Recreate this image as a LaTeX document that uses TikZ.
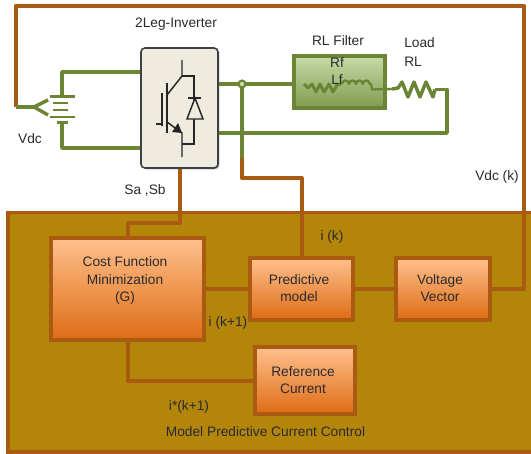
\documentclass[tikz,border=0pt]{standalone}
\usepackage{fontspec}
\setmainfont{Liberation Sans}
\usetikzlibrary{shadows}
\definecolor{wirebrown}{HTML}{AB5A12}
\definecolor{wiregreen}{HTML}{6B8535}
\definecolor{ctrlfill}{HTML}{B38508}
\definecolor{invfill}{HTML}{F0EBDF}
\definecolor{txt}{HTML}{2A2A30}
\definecolor{boxtop}{HTML}{FFC08C}
\definecolor{boxbot}{HTML}{DD6C14}
\definecolor{filttop}{HTML}{C8DAA6}
\definecolor{filtbot}{HTML}{7F9C50}
\tikzset{
  px/.style={x=0.75pt,y=-0.75pt},
  brownwire/.style={draw=wirebrown,line width=3pt,line join=round},
  greenwire/.style={draw=wiregreen,line width=2.6pt,line join=round},
  devline/.style={draw=wiregreen,line width=2.2pt,line join=round},
  igbt/.style={draw=black!85,line width=1.1pt,line join=miter},
  ctrlbox/.style={draw=wirebrown,line width=2.8pt,top color=boxtop,bottom color=boxbot,
    inner sep=0pt,drop shadow={shadow xshift=1pt,shadow yshift=-1pt,opacity=.3,fill=black}},
  lbl/.style={inner sep=0pt,font=\fontsize{10.3}{12.8}\selectfont,text=txt},
}
\begin{document}
\begin{tikzpicture}[px]
\useasboundingbox (0,0) rectangle (531,453);
\fill[white] (0,0) rectangle (531,453);
% control panel
\path[fill=ctrlfill,draw=wirebrown,line width=2.4pt] (8,212.5) -- (535,212.5) -- (535,452) -- (8,452) -- cycle;
% named points
\coordinate (topL) at (15.5,6);
\coordinate (topR) at (524,6);
\coordinate (sense) at (15.5,107);
\coordinate (fork) at (34,107);
\coordinate (forkA) at (48,100);
\coordinate (forkB) at (48,115);
\coordinate (batT) at (62,96);
\coordinate (batB) at (62,122);
\coordinate (dot) at (242,84);
\coordinate (meas) at (242,158);
\coordinate (filtOut) at (372,89.5);
\coordinate (loadIn) at (392,89);
\coordinate (loadOut) at (435,89.5);
\coordinate (loadR) at (447,89.5);
% boxes
\node[draw=black!75,line width=1.2pt,fill=invfill,rounded corners=3pt,minimum width=77*0.75pt,minimum height=120*0.75pt,inner sep=0pt,
  drop shadow={shadow xshift=1pt,shadow yshift=-1pt,opacity=.3,fill=black}] (inv) at (179.5,108) {};
\node[draw=wiregreen,line width=2.6pt,top color=filttop,bottom color=filtbot,minimum width=91*0.75pt,minimum height=52*0.75pt,inner sep=0pt,
  drop shadow={shadow xshift=1pt,shadow yshift=-1pt,opacity=.3,fill=black}] (filt) at (339.5,82) {};
% wires
\draw[brownwire] (sense) -- (topL) -- (topR) |- (397,289);
\draw[greenwire] (sense) -- (fork);
\draw[greenwire] (forkA) -- (fork) -- (forkB);
\draw[greenwire] (batT) |- (inv.west |- 0,72);
\draw[greenwire] (batB) |- (inv.west |- 0,148);
\draw[greenwire] (inv.east |- dot) -- (dot) -- (filt.west |- dot);
\draw[greenwire] (dot) -- (meas);
\draw[greenwire] (inv.east |- 0,133) -- (loadR |- 0,133) -- (loadR) -- (loadOut);
\draw[brownwire] (meas) -- (242,178) -- (301.5,178) -- (301.5,258);
\draw[brownwire] (inv.south) -- (179.5,223) -- (127.5,223) -- (127.5,238);
% battery
\draw[devline] (50,96.5) -- (75,96.5);
\draw[devline] (53,103) -- (68,103);
\draw[devline] (50,117) -- (75,117);
\draw[devline] (53,110) -- (68,110);
\draw[devline] (57,122.5) -- (68,122.5);
% junction
\filldraw[draw=wiregreen,fill=filttop,line width=1.6pt] (dot) circle (2.6pt);
% filter internals
\draw[devline] (304,84) -- (308,88) -- (312,84) -- (316,92) -- (320,84) -- (324,92) -- (329,84) -- (333,92) -- (337,85) -- (341,84);
\draw[devline,line width=1.8pt] (342,84) arc[start angle=180,end angle=0,radius=2.6pt] arc[start angle=180,end angle=0,radius=2.6pt] arc[start angle=180,end angle=0,radius=2.6pt] arc[start angle=180,end angle=0,radius=2.6pt] -- (371,84) -- (filtOut) -- (loadIn);
% load
\draw[greenwire] (loadIn) -- (398,88) -- (402,82) -- (408,97) -- (414,82) -- (420,97) -- (426,82) -- (433,97) -- (loadOut);
% inverter symbol
\draw[igbt,line width=1.4pt] (162,93) -- (162,126);
\draw[igbt] (156,124) -- (162,124);
\draw[igbt,line width=1.4pt] (167,83) -- (167,133);
\draw[igbt] (182,60) -- (182,76) -- (167,95);
\draw[igbt] (182,76) -- (194,76) -- (194,144) -- (182,144);
\draw[igbt] (167,122) -- (182,133) -- (182,157);
\fill[black!85] (182,133) -- (172,132) -- (178,123) -- cycle;
\draw[igbt,fill=invfill] (195,98) -- (187,119) -- (203,119) -- cycle;
\draw[igbt,line width=1.4pt] (188,98) -- (201,98);
% control blocks
\node[ctrlbox,minimum width=153*0.75pt,minimum height=102*0.75pt] (cost) at (127.5,289) {};
\node[ctrlbox,minimum width=103*0.75pt,minimum height=62*0.75pt] (pred) at (301.5,289) {};
\node[ctrlbox,minimum width=94*0.75pt,minimum height=62*0.75pt] (volt) at (443,289) {};
\node[ctrlbox,minimum width=100*0.75pt,minimum height=67*0.75pt] (refc) at (305,380.5) {};
\draw[brownwire] (cost.east) -- (pred.west);
\draw[brownwire] (pred.east) -- (volt.west);
\draw[brownwire] (volt.east) -- (524,289);
\draw[brownwire] (cost.south) |- (refc.west);
% block texts
\node[lbl,align=center] (tcost) at (125,280.5) {Cost Function\\Minimization\\(G)};
\node[lbl,align=center] (tpred) at (299,288.5) {Predictive\\model};
\node[lbl,align=center] (tvolt) at (440,288.5) {Voltage\\Vector};
\node[lbl,align=center] (tref) at (303,380.5) {Reference\\Current};
% labels
\node[lbl] (l1) at (176,24) {2Leg-Inverter};
\node[lbl] (l2) at (30,139) {Vdc};
\node[lbl] (l3) at (145,190) {Sa ,Sb};
\node[lbl] (l4) at (338,41) {RL Filter};
\node[lbl] (l5) at (337,63) {Rf};
\node[lbl] (l6) at (337,80) {Lf};
\node[lbl,anchor=west] (l7) at (404,43) {Load};
\node[lbl,anchor=west] (l8) at (404,62) {RL};
\node[lbl] (l9) at (497,177) {Vdc (k)};
\node[lbl] (l10) at (332,237) {i (k)};
\node[lbl] (l11) at (228,323) {i (k+1)};
\node[lbl] (l12) at (189,407) {i*(k+1)};
\node[lbl] (l13) at (265.5,432) {Model Predictive Current Control};
\end{tikzpicture}
\end{document}
